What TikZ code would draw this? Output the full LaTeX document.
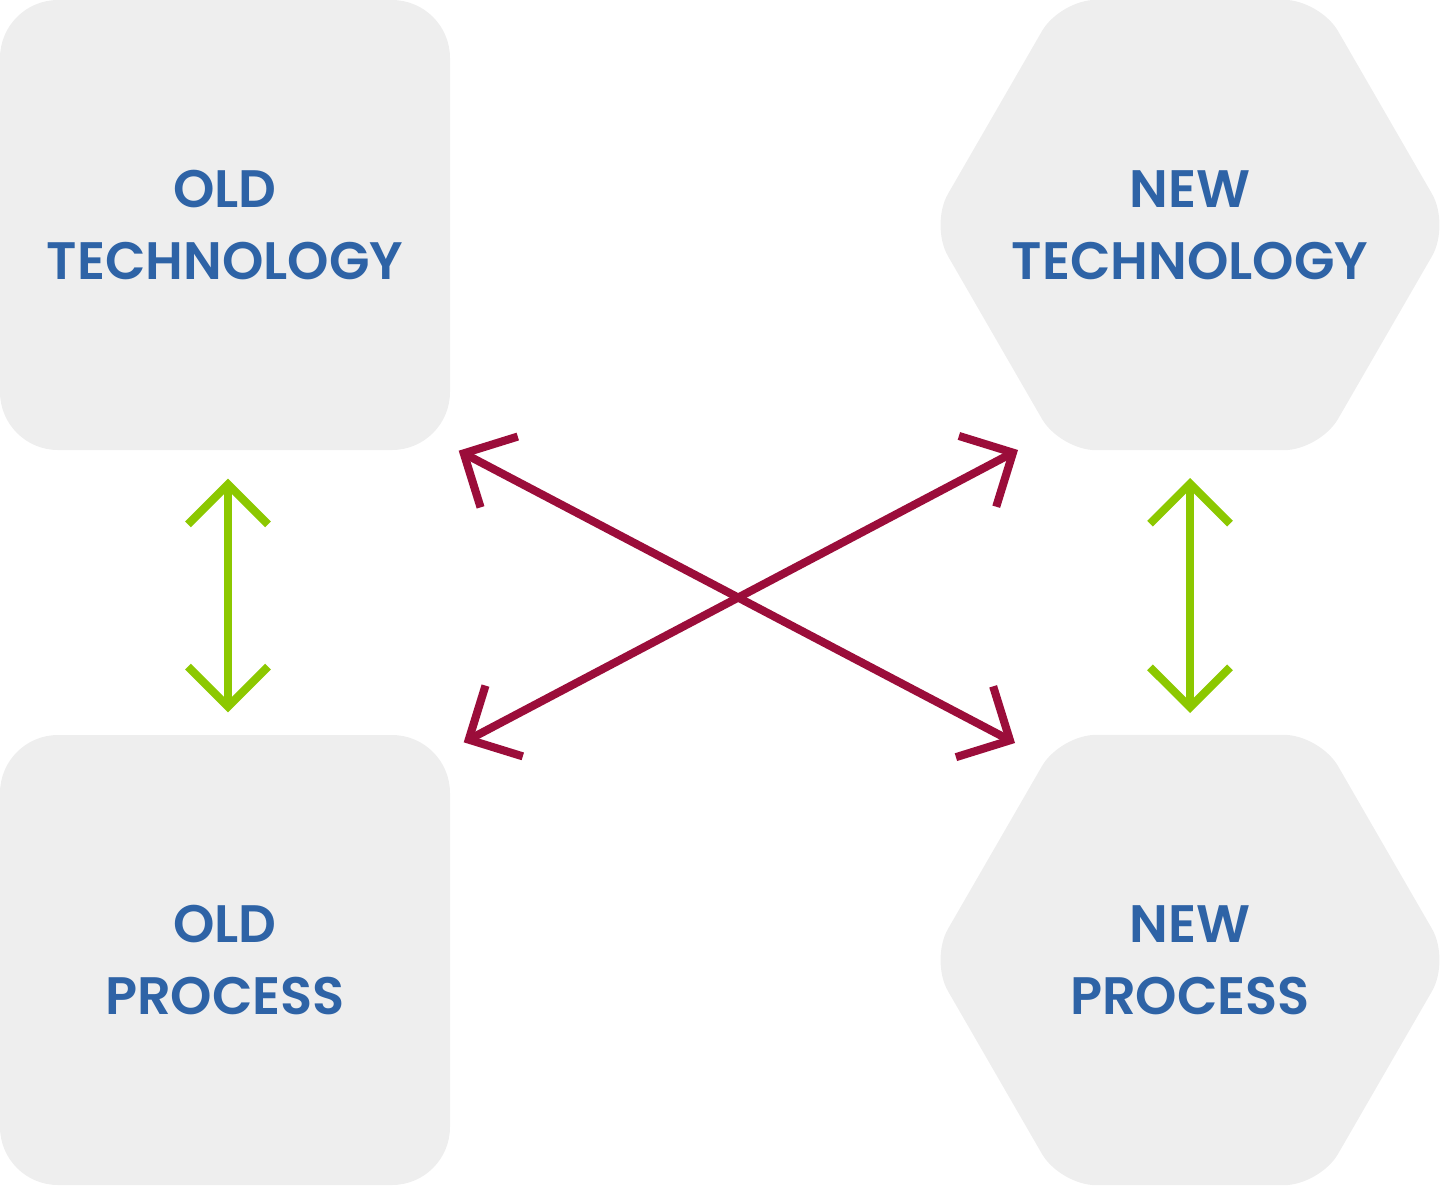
\documentclass[tikz,border=0pt]{standalone}
\usepackage{fontspec}
\setmainfont{Poppins}[BoldFont={Poppins SemiBold}]
\usetikzlibrary{arrows.meta, shapes.geometric}

\definecolor{boxgray}{HTML}{EEEEEE}
\definecolor{labelblue}{HTML}{2E63A6}
\definecolor{linkgreen}{HTML}{8CC800}
\definecolor{crossred}{HTML}{9B0D3A}

\begin{document}
\begin{tikzpicture}[
  label text/.style={text=labelblue, align=center, font=\fontsize{15}{20.5}\selectfont\bfseries},
  oldbox/.style={label text, fill=boxgray, rounded corners=0.58cm, minimum width=4.5cm, minimum height=4.5cm, inner sep=0pt},
  newbox/.style={label text, fill=boxgray, regular polygon, regular polygon sides=6, minimum size=5.2cm, rounded corners=0.36cm, inner sep=-1cm},
  barb/.tip={Straight Barb[length=0.4cm, width=0.8cm]},
  greenlink/.style={line width=2.3pt, linkgreen, barb-barb},
  redlink/.style={line width=2.3pt, crossred, barb-barb}
]
  \useasboundingbox (0,0) rectangle (14.43,-11.86);

  % the four boxes
  \node[oldbox] (oldtech) at (2.25,-2.25) {OLD\\TECHNOLOGY};
  \node[oldbox] (oldproc) at (2.25,-9.60) {OLD\\PROCESS};
  \node[newbox] (newtech) at (11.90,-2.25) {NEW\\TECHNOLOGY};
  \node[newbox] (newproc) at (11.90,-9.60) {NEW\\PROCESS};

  % old <-> new on each side
  \draw[greenlink] ([shift={(0.03,-0.28)}]oldtech.south) -- ([shift={(0.03,0.22)}]oldproc.north);
  \draw[greenlink] ([yshift=-2.53cm]newtech.center) -- ([yshift=2.47cm]newproc.center);

  % crossing links
  \draw[redlink] ([shift={(0.08,0)}]oldtech.south east) -- ([shift={(-1.75,2.17)}]newproc.center);
  \draw[redlink] ([shift={(-1.72,-2.25)}]newtech.center) -- ([shift={(0.13,-0.08)}]oldproc.north east);
\end{tikzpicture}
\end{document}
